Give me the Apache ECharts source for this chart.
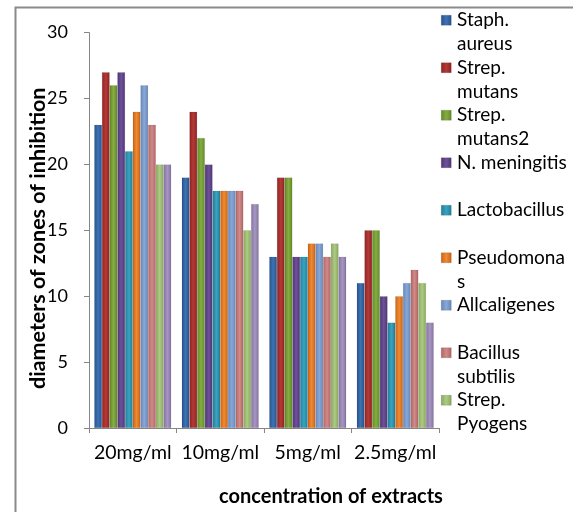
<!DOCTYPE html>
<html>
<head>
<meta charset="utf-8">
<script src="https://cdn.jsdelivr.net/npm/echarts@6/dist/echarts.min.js"></script>
<style>html,body{margin:0;padding:0;background:#fff}#c{width:573px;height:512px}</style>
</head>
<body>
<div id="c"></div>
<script>
var categories = ['20mg/ml', '10mg/ml', '5mg/ml', '2.5mg/ml'];
var seriesNames = ['Staph. aureus', 'Strep. mutans', 'Strep. mutans2', 'N. meningitis', 'Lactobacillus', 'Pseudomonas', 'Allcaligenes', 'Bacillus subtilis', 'Strep. Pyogens', 'Series10'];
var legendLabels = ['Staph.\naureus', 'Strep.\nmutans', 'Strep.\nmutans2', 'N. meningitis', 'Lactobacillus', 'Pseudomona\ns', 'Allcaligenes', 'Bacillus\nsubtilis', 'Strep.\nPyogens'];
var staphAureus = [23, 19, 13, 11];
var strepMutans = [27, 24, 19, 15];
var strepMutans2 = [26, 22, 19, 15];
var nMeningitis = [27, 20, 13, 10];
var lactobacillus = [21, 18, 13, 8];
var pseudomonas = [24, 18, 14, 10];
var allcaligenes = [26, 18, 14, 11];
var bacillusSubtilis = [23, 18, 13, 12];
var strepPyogens = [20, 15, 14, 11];
var series10 = [20, 17, 13, 8];
var yTicks = [0, 5, 10, 15, 20, 25, 30];

var allValues = [staphAureus, strepMutans, strepMutans2, nMeningitis, lactobacillus, pseudomonas, allcaligenes, bacillusSubtilis, strepPyogens, series10];
var colors = [
  ['#24528c', '#3f72b4', '#24528c'],
  ['#8e2222', '#b53a37', '#8e2222'],
  ['#5f8a26', '#86ad42', '#5f8a26'],
  ['#4f3475', '#6d519a', '#4f3475'],
  ['#1f7e98', '#3aa3c0', '#1f7e98'],
  ['#cc620f', '#ee8a36', '#cc620f'],
  ['#6586b9', '#88a8d6', '#6586b9'],
  ['#b06464', '#d08a88', '#b06464'],
  ['#88a65a', '#aecb86', '#88a65a'],
  ['#85739f', '#a696c4', '#85739f']
];

function grad(c, vertical) {
  return new echarts.graphic.LinearGradient(0, 0, vertical ? 0 : 1, vertical ? 1 : 0, [
    {offset: 0, color: c[0]}, {offset: 0.5, color: c[1]}, {offset: 1, color: c[2]}
  ]);
}

var font = 'Lato, "Open Sans", sans-serif';
var chart = echarts.init(document.getElementById('c'), null, {renderer: 'canvas'});
var series = allValues.map(function (v, i) {
  return {
    name: seriesNames[i],
    type: 'bar',
    data: v,
    barGap: '0%',
    barCategoryGap: '12%',
    itemStyle: {color: grad(colors[i]), borderColor: 'rgba(0,0,0,0.15)', borderWidth: 0.5},
    emphasis: {disabled: true}
  };
});

// Legend (drawn as graphic so that wrapped names align like the original)
var legendItems = [];
legendLabels.forEach(function (label, i) {
  var cy = 20 + 47.5 * i;
  legendItems.push({
    type: 'rect', left: 441, top: cy - 5, shape: {width: 10, height: 10},
    style: {fill: grad(colors[i], false), stroke: 'rgba(0,0,0,0.25)', lineWidth: 0.5}, silent: true
  });
  legendItems.push({
    type: 'text', left: 457, top: cy - 12,
    style: {text: label, fill: '#000', font: '19px ' + font, lineHeight: 24, verticalAlign: 'top'}, silent: true
  });
});

chart.setOption({
  animation: false,
  graphic: [{
    type: 'rect', left: 13, top: 5, shape: {width: 620, height: 560},
    style: {fill: 'none', stroke: '#8a8a8a', lineWidth: 2}, silent: true
  }].concat(legendItems),
  grid: {left: 89, right: 134, top: 32.6, bottom: 82.5, containLabel: false},
  xAxis: {
    type: 'category',
    data: categories,
    name: 'concentration of extracts',
    nameLocation: 'middle',
    nameGap: 59,
    nameMoveOverlap: false,
    nameTextStyle: {fontFamily: font, fontSize: 20, fontWeight: 'bold', color: '#000', padding: [0, 0, 0, 134]},
    axisLine: {lineStyle: {color: '#868686', width: 1}},
    axisTick: {show: true, length: 5, lineStyle: {color: '#868686'}},
    axisLabel: {fontFamily: font, fontSize: 19.5, color: '#000', margin: 15, interval: 0}
  },
  yAxis: {
    type: 'value',
    min: 0, max: 30, interval: 5,
    name: 'diameters of zones of inhibition',
    nameLocation: 'middle',
    nameGap: 40,
    nameMoveOverlap: false,
    nameTextStyle: {fontFamily: font, fontSize: 21.5, fontWeight: 'bold', color: '#000', padding: [0, 16, 0, 0]},
    axisLine: {show: true, lineStyle: {color: '#868686', width: 1}},
    axisTick: {show: true, length: 5, lineStyle: {color: '#868686'}},
    splitLine: {show: false},
    axisLabel: {fontFamily: font, fontSize: 18, color: '#000', margin: 21,
      formatter: function (v) { return yTicks.indexOf(v) >= 0 ? String(v) : ''; }}
  },
  series: series
});
</script>
</body>
</html>
